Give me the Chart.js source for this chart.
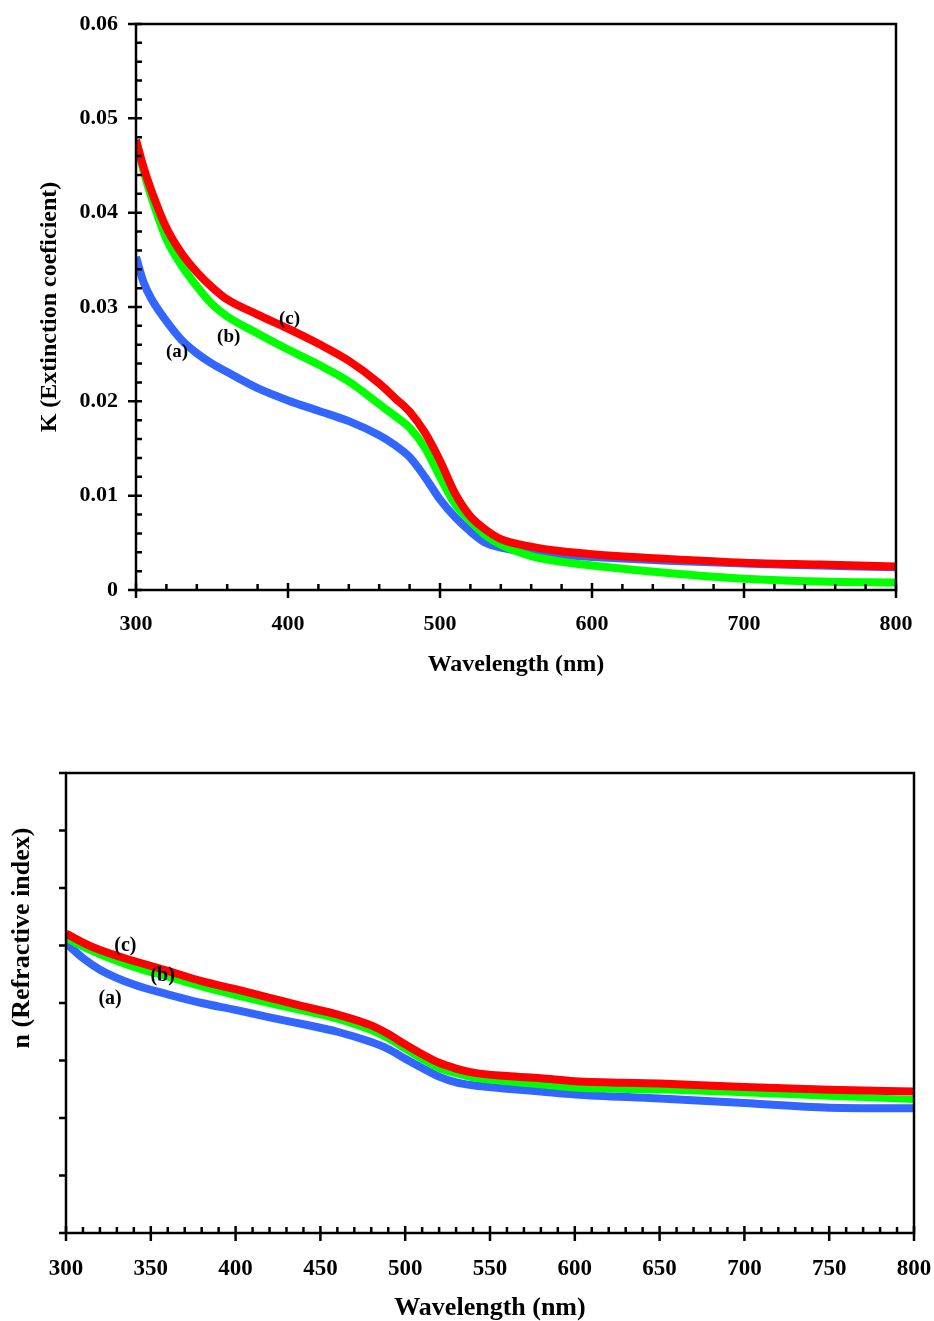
<!DOCTYPE html>
<html>
<head>
<meta charset="utf-8">
<script src="https://cdn.jsdelivr.net/npm/chart.js@4.4.1/dist/chart.umd.min.js"></script>
<style>
  html, body { margin: 0; padding: 0; background: #fff; }
  #wrap { position: relative; width: 934px; height: 1321px; overflow: hidden; }
  canvas { position: absolute; left: 0; }
</style>
</head>
<body>
<div id="wrap">
  <canvas id="k-chart" width="934" height="700" style="top:0"></canvas>
  <canvas id="n-chart" width="934" height="621" style="top:700px"></canvas>
</div>
<script>
/* ============================================
   Optical constants — K and n vs wavelength
   ============================================ */

// --- Top panel: extinction coefficient ---
const kWavelength = [300, 305, 310, 320, 330, 340, 350, 360, 380, 400, 420, 440, 460, 470, 480, 490, 500, 510, 520, 530, 540, 560, 580, 600, 650, 700, 750, 800];
const kSampleA = [0.0353, 0.0326, 0.0309, 0.0285, 0.0265, 0.0251, 0.0240, 0.0231, 0.0214, 0.0201, 0.0190, 0.0179, 0.0164, 0.0154, 0.0141, 0.0120, 0.0096, 0.0077, 0.0062, 0.0050, 0.0045, 0.0040, 0.0037, 0.0035, 0.0031, 0.0028, 0.0026, 0.0024];
const kSampleB = [0.0477, 0.0444, 0.0417, 0.0372, 0.0344, 0.0322, 0.0303, 0.0290, 0.0272, 0.0255, 0.0239, 0.0221, 0.0197, 0.0185, 0.0172, 0.0151, 0.0120, 0.0091, 0.0073, 0.0058, 0.0048, 0.0036, 0.0030, 0.0026, 0.0018, 0.0012, 0.0009, 0.0008];
const kSampleC = [0.0477, 0.0448, 0.0424, 0.0384, 0.0357, 0.0337, 0.0321, 0.0308, 0.0292, 0.0277, 0.0261, 0.0243, 0.0219, 0.0204, 0.0189, 0.0167, 0.0137, 0.0102, 0.0078, 0.0064, 0.0054, 0.0046, 0.0041, 0.0038, 0.0033, 0.0029, 0.0027, 0.0025];

// --- Bottom panel: refractive index ---
const nWavelength = [300, 310, 320, 340, 360, 380, 400, 420, 440, 460, 480, 490, 500, 510, 520, 530, 540, 560, 580, 600, 650, 700, 750, 800];
const nSampleA = [1.904, 1.878, 1.858, 1.832, 1.815, 1.800, 1.788, 1.775, 1.763, 1.750, 1.732, 1.720, 1.703, 1.687, 1.672, 1.662, 1.657, 1.651, 1.646, 1.641, 1.634, 1.626, 1.618, 1.617];
const nSampleB = [1.913, 1.897, 1.884, 1.862, 1.845, 1.828, 1.813, 1.799, 1.786, 1.772, 1.752, 1.738, 1.720, 1.702, 1.686, 1.677, 1.670, 1.663, 1.658, 1.652, 1.649, 1.644, 1.638, 1.632];
const nSampleC = [1.921, 1.905, 1.892, 1.873, 1.856, 1.838, 1.824, 1.809, 1.794, 1.780, 1.761, 1.746, 1.728, 1.711, 1.696, 1.686, 1.679, 1.673, 1.669, 1.664, 1.660, 1.654, 1.649, 1.646];

// --- Tick labels ---
const kXTicks = [300, 400, 500, 600, 700, 800];
const kYTicks = [0, 0.01, 0.02, 0.03, 0.04, 0.05, 0.06];
const nXTicks = [300, 350, 400, 450, 500, 550, 600, 650, 700, 750, 800];
const nYTicks = [1.4, 1.5, 1.6, 1.7, 1.8, 1.9, 2.0, 2.1, 2.2];

// --- Curve tags (wavelength, value) ---
const curveTags = ['(a)', '(b)', '(c)'];
const kTagAt = [[327, 0.0252], [361, 0.0268], [401, 0.0287]];
const nTagAt = [[326, 1.808], [357, 1.847], [335, 1.899]];

const SERIF = '"Liberation Serif", "Times New Roman", serif';
const COLORS = { a: '#3366ff', b: '#00ff00', c: '#ff0000' };

const pts = (xs, ys) => xs.map((x, i) => ({ x, y: ys[i] }));

function lineSet(label, xs, ys, color, width) {
  return {
    label, data: pts(xs, ys),
    borderColor: color, backgroundColor: color,
    borderWidth: width, pointRadius: 0,
    cubicInterpolationMode: 'monotone', fill: false,
  };
}

// keep the plot box where we put it: no extra room for label overflow
function fixSize(prop, size) {
  return s => {
    s[prop] = size;
    s.paddingTop = 0; s.paddingBottom = 0;
    s.paddingLeft = 0; s.paddingRight = 0;
  };
}

// frame, inward/outward tick marks and curve tags
const framePlugin = {
  id: 'frame',
  afterDatasetsDraw(chart, args, o) {
    const { ctx, chartArea: a, scales: { x, y } } = chart;
    ctx.save();
    ctx.strokeStyle = '#000';
    ctx.lineWidth = 2.5;
    ctx.strokeRect(a.left, a.top, a.right - a.left, a.bottom - a.top);

    ctx.beginPath();
    o.xMajor.forEach(v => {
      const px = x.getPixelForValue(v);
      ctx.moveTo(px, a.bottom + o.xOut); ctx.lineTo(px, a.bottom - o.xIn);
    });
    for (let i = 0; i < o.xMajor.length - 1; i++) {
      const step = (o.xMajor[i + 1] - o.xMajor[i]) / o.xSub;
      for (let j = 1; j < o.xSub; j++) {
        const px = x.getPixelForValue(o.xMajor[i] + j * step);
        ctx.moveTo(px, a.bottom); ctx.lineTo(px, a.bottom - o.minorIn);
      }
    }
    o.yMajor.forEach(v => {
      const py = y.getPixelForValue(v);
      ctx.moveTo(a.left - o.yOut, py); ctx.lineTo(a.left + o.yIn, py);
    });
    for (let i = 0; o.ySub > 1 && i < o.yMajor.length - 1; i++) {
      const step = (o.yMajor[i + 1] - o.yMajor[i]) / o.ySub;
      for (let j = 1; j < o.ySub; j++) {
        const py = y.getPixelForValue(o.yMajor[i] + j * step);
        ctx.moveTo(a.left, py); ctx.lineTo(a.left + o.minorIn, py);
      }
    }
    ctx.stroke();

    ctx.fillStyle = '#000';
    ctx.font = o.tagFont;
    ctx.textAlign = 'center';
    ctx.textBaseline = 'middle';
    o.tags.forEach(([wl, v], i) => {
      ctx.fillText(curveTags[i], x.getPixelForValue(wl), y.getPixelForValue(v));
    });

    if (o.yTitle) {
      ctx.font = o.yTitle.font;
      ctx.translate(o.yTitle.x, o.yTitle.y);
      ctx.rotate(-Math.PI / 2);
      ctx.fillText(o.yTitle.text, 0, 0);
    }
    ctx.restore();
  }
};

// --- Top chart ---
new Chart(document.getElementById('k-chart'), {
  type: 'line',
  data: {
    datasets: [
      lineSet('(c)', kWavelength, kSampleC, COLORS.c, 8),
      lineSet('(b)', kWavelength, kSampleB, COLORS.b, 8),
      lineSet('(a)', kWavelength, kSampleA, COLORS.a, 8),
    ],
  },
  options: {
    responsive: false,
    animation: false,
    layout: { padding: { top: 24, right: 38, left: 0, bottom: 0 } },
    plugins: {
      legend: { display: false },
      tooltip: { enabled: false },
      frame: {
        xMajor: kXTicks, xSub: 5, xOut: 8, xIn: 7,
        yMajor: kYTicks, ySub: 5, yOut: 8, yIn: 6, minorIn: 6,
        tags: kTagAt, tagFont: 'bold 19px ' + SERIF,
      },
    },
    scales: {
      x: {
        type: 'linear', min: 300, max: 800,
        afterBuildTicks: s => { s.ticks = kXTicks.map(value => ({ value })); },
        afterFit: fixSize('height', 110),
        grid: { display: false, drawTicks: false },
        border: { display: false },
        ticks: { padding: 21, color: '#000', font: { family: SERIF, size: 22, weight: 'bold' } },
        title: { display: true, text: 'Wavelength (nm)', color: '#000', padding: { top: 0, bottom: 23 },
                 font: { family: SERIF, size: 24, weight: 'bold', lineHeight: 1 } },
      },
      y: {
        type: 'linear', min: 0, max: 0.06,
        afterBuildTicks: s => { s.ticks = kYTicks.map(value => ({ value })); },
        afterFit: fixSize('width', 136),
        grid: { display: false, drawTicks: false },
        border: { display: false },
        ticks: { padding: 18, color: '#000', font: { family: SERIF, size: 22, weight: 'bold' },
                 callback: v => (v === 0 ? '0' : v.toFixed(2)) },
        title: { display: true, text: 'K (Extinction coeficient)', color: '#000', padding: { top: 38, bottom: 0 },
                 font: { family: SERIF, size: 24, weight: 'bold', lineHeight: 1 } },
      },
    },
  },
  plugins: [framePlugin],
});

// --- Bottom chart ---
new Chart(document.getElementById('n-chart'), {
  type: 'line',
  data: {
    datasets: [
      lineSet('(c)', nWavelength, nSampleC, COLORS.c, 8),
      lineSet('(b)', nWavelength, nSampleB, COLORS.b, 7),
      lineSet('(a)', nWavelength, nSampleA, COLORS.a, 8),
    ],
  },
  options: {
    responsive: false,
    animation: false,
    layout: { padding: { top: 73, right: 20, left: 0, bottom: 0 } },
    plugins: {
      legend: { display: false },
      tooltip: { enabled: false },
      frame: {
        xMajor: nXTicks, xSub: 5, xOut: 8, xIn: 7,
        yMajor: nYTicks, ySub: 1, yOut: 7, yIn: 0, minorIn: 6,
        tags: nTagAt, tagFont: 'bold 20px ' + SERIF,
        yTitle: { text: 'n (Refractive index)', x: 22, y: 238, font: 'bold 26px ' + SERIF },
      },
    },
    scales: {
      x: {
        type: 'linear', min: 300, max: 800,
        afterBuildTicks: s => { s.ticks = nXTicks.map(value => ({ value })); },
        afterFit: fixSize('height', 88),
        grid: { display: false, drawTicks: false },
        border: { display: false },
        ticks: { padding: 22, color: '#000', font: { family: SERIF, size: 23, weight: 'bold' } },
        title: { display: true, text: 'Wavelength (nm)', color: '#000', padding: { top: 0, bottom: 0 },
                 font: { family: SERIF, size: 26, weight: 'bold', lineHeight: 1 } },
      },
      y: {
        type: 'linear', min: 1.4, max: 2.2,
        afterBuildTicks: s => { s.ticks = nYTicks.map(value => ({ value })); },
        afterFit: fixSize('width', 66),
        grid: { display: false, drawTicks: false },
        border: { display: false },
        ticks: { display: false },
      },
    },
  },
  plugins: [framePlugin],
});
</script>
</body>
</html>
